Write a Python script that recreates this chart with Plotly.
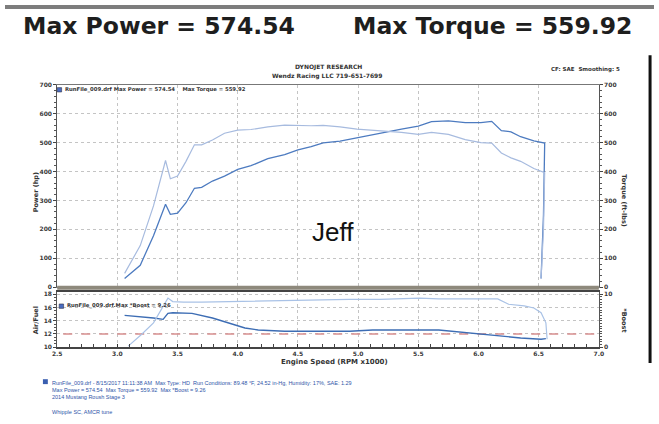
import plotly.graph_objects as go

W, H = 659, 424
def px(x): return x / W
def py(y): return 1 - y / H

# ---------------- data ----------------
rpm = [3.06, 3.19, 3.30, 3.35, 3.40, 3.44, 3.50, 3.57, 3.64, 3.70, 3.79, 3.89, 4.00, 4.11,
       4.25, 4.39, 4.50, 4.61, 4.71, 4.85, 4.99, 5.12, 5.23, 5.36, 5.50, 5.61, 5.75, 5.89,
       6.02, 6.11, 6.19, 6.27, 6.35, 6.46, 6.55, 6.54, 6.52]
power = [30, 76, 178, 235, 287, 252, 256, 292, 342, 345, 367, 384, 407, 420,
         444, 458, 475, 486, 499, 505, 517, 527, 537, 546, 557, 572, 574.5, 569,
         569, 573, 541, 537, 520, 506, 498, 250, 30]
torque = [48, 144, 281, 357, 438, 375, 384, 435, 492, 492, 509, 532, 543, 545,
          554, 560, 558, 558, 559, 554, 546, 542, 540, 535, 528, 535, 528, 510,
          500, 498, 464, 447, 435, 410, 396, 200, 30]

boost_rpm = [3.09, 3.20, 3.30, 3.42, 3.46, 3.55, 3.70, 4.11, 4.50, 4.93, 5.18, 5.51,
             5.67, 6.16, 6.25, 6.38, 6.46, 6.52, 6.56, 6.57]
boost = [0.2, 2.4, 4.6, 9.26, 8.6, 8.5, 8.5, 8.7, 8.9, 9.0, 9.0, 9.26,
         9.1, 9.1, 8.1, 7.8, 7.4, 6.5, 4.6, 1.5]

afr_rpm = [3.06, 3.20, 3.30, 3.38, 3.42, 3.46, 3.62, 3.79, 3.92, 4.06, 4.17, 4.39,
           4.93, 5.12, 5.67, 5.89, 6.08, 6.35, 6.52, 6.56]
afr = [14.8, 14.6, 14.4, 14.2, 15.1, 15.2, 15.1, 14.4, 13.7, 12.9, 12.6, 12.4,
       12.4, 12.6, 12.6, 12.2, 11.8, 11.4, 11.2, 11.3]

afr_target_rpm = [2.55, 7.0]
afr_target = [12.0, 12.0]

x_ticks = [2.5, 3.0, 3.5, 4.0, 4.5, 5.0, 5.5, 6.0, 6.5, 7.0]
x_ticklabels = ["2.5", "3.0", "3.5", "4.0", "4.5", "5.0", "5.5", "6.0", "6.5", "7.0"]
power_ticks = [0, 100, 200, 300, 400, 500, 600, 700]
afr_ticks = [10, 12, 14, 16, 18]
boost_ticks = [0, 10]

# ---------------- figure ----------------
TF = dict(family="DejaVu Sans", size=6, color="#3a3a3a", weight="bold")
GRID = dict(showgrid=True, gridcolor="#c4c4c4", griddash="dot", gridwidth=1)

fig = go.Figure()
fig.add_trace(go.Scatter(x=rpm, y=torque, xaxis="x", yaxis="y2", mode="lines",
                         line=dict(color="#a7bbdf", width=1.2), hoverinfo="skip"))
fig.add_trace(go.Scatter(x=rpm, y=power, xaxis="x", yaxis="y", mode="lines",
                         line=dict(color="#4d7bc0", width=1.3), hoverinfo="skip"))
fig.add_trace(go.Scatter(x=afr_target_rpm, y=afr_target, xaxis="x2", yaxis="y3", mode="lines",
                         line=dict(color="#d88f8f", width=1.6, dash="dash"), hoverinfo="skip"))
fig.add_trace(go.Scatter(x=boost_rpm, y=boost, xaxis="x2", yaxis="y4", mode="lines",
                         line=dict(color="#a9c2e6", width=1.2), hoverinfo="skip"))
fig.add_trace(go.Scatter(x=afr_rpm, y=afr, xaxis="x2", yaxis="y3", mode="lines",
                         line=dict(color="#3d6db4", width=1.4), hoverinfo="skip"))

xdom = [px(53), px(603)]
fig.update_layout(
    width=W, height=H, autosize=False,
    margin=dict(l=0, r=0, t=0, b=0),
    paper_bgcolor="white", plot_bgcolor="white",
    showlegend=False,
    xaxis=dict(domain=xdom, anchor="y", range=[2.5, 7.0], tickvals=x_ticks,
               showticklabels=False, ticks="", zeroline=False,
               showline=True, linecolor="#777", mirror=True, **GRID),
    yaxis=dict(domain=[py(288), py(82)], anchor="x", range=[0, 700], tickvals=power_ticks,
               ticks="outside", ticklen=3, tickcolor="#444", tickfont=TF,
               minor=dict(dtick=20, ticks="outside", ticklen=2, tickcolor="#555", showgrid=False),
               zeroline=False, showline=True, linecolor="#555", **GRID),
    yaxis2=dict(overlaying="y", side="right", anchor="x", range=[0, 700], tickvals=power_ticks,
                ticks="outside", ticklen=3, tickcolor="#444", tickfont=TF,
                minor=dict(dtick=20, ticks="outside", ticklen=2, tickcolor="#555"),
                showgrid=False, zeroline=False, showline=True, linecolor="#555"),
    xaxis2=dict(domain=xdom, anchor="y3", range=[2.5, 7.0], tickvals=x_ticks, ticktext=x_ticklabels,
                ticks="inside", ticklen=3, tickcolor="#333", tickfont=TF,
                minor=dict(dtick=0.1, ticks="inside", ticklen=3, tickcolor="#444"),
                zeroline=False, showline=True, linecolor="#444", linewidth=1.5, mirror=True, **GRID),
    yaxis3=dict(domain=[py(349), py(293)], anchor="x2", range=[10, 18.3], tickvals=afr_ticks,
                ticks="outside", ticklen=3, tickcolor="#444", tickfont=TF,
                minor=dict(dtick=0.5, ticks="outside", ticklen=2, tickcolor="#555", showgrid=False),
                zeroline=False, showline=True, linecolor="#555", **GRID),
    yaxis4=dict(overlaying="y3", side="right", anchor="x2", range=[0, 10.375], tickvals=boost_ticks,
                ticks="outside", ticklen=3, tickcolor="#444", tickfont=TF,
                minor=dict(dtick=0.5, ticks="outside", ticklen=2, tickcolor="#555"),
                showgrid=False, zeroline=False, showline=True, linecolor="#555"),
)

shapes = [
    # top edge band of the photo
    dict(type="rect", xref="paper", yref="paper", x0=0, x1=1, y0=py(5), y1=py(1),
         fillcolor="#7d7d7d", line=dict(width=0), layer="above"),
    # thick bottom border of the upper plot
    dict(type="rect", xref="paper", yref="paper", x0=px(53), x1=px(603), y0=py(290.5), y1=py(286.5),
         fillcolor="#8e897c", line=dict(width=0), layer="above"),
    # right black edge
    dict(type="line", xref="paper", yref="paper", x0=px(655), x1=px(655), y0=py(365), y1=py(52),
         line=dict(color="#111", width=3)),
    # legend squares
    dict(type="rect", xref="paper", yref="paper", x0=px(53), x1=px(57.5), y0=py(89.5), y1=py(85),
         fillcolor="#4a6cc0", line=dict(color="#223", width=0.5), layer="above"),
    dict(type="rect", xref="paper", yref="paper", x0=px(55), x1=px(59.5), y0=py(309.5), y1=py(305),
         fillcolor="#4a6cc0", line=dict(color="#223", width=0.5), layer="above"),
    dict(type="rect", xref="paper", yref="paper", x0=px(38.5), x1=px(43.5), y0=py(386.5), y1=py(381.5),
         fillcolor="#3a5fb0", line=dict(width=0)),
]
fig.update_layout(shapes=shapes)

def ann(text, x, y, size, xanchor="center", yanchor="middle", color="#333", bold=True,
        family="DejaVu Sans", angle=0, align="left"):
    return dict(text=text, x=px(x), y=py(y), xref="paper", yref="paper", showarrow=False,
                xanchor=xanchor, yanchor=yanchor, textangle=angle, align=align,
                font=dict(family=family, size=size, color=color, weight="bold" if bold else "normal"))

info = ("RunFile_009.drf - 8/15/2017 11:11:38 AM  Max Type: HD  Run Conditions: 89.48 \u00b0F, "
        "24.52 in-Hg, Humidity: 17%, SAE: 1.29<br>"
        "Max Power = 574.54  Max Torque = 559.92  Max *Boost = 9.26<br>"
        "2014 Mustang Roush Stage 3<br> <br>"
        "Whipple SC, AMCR tune")

annotations = [
    ann("Max Power = 574.54", 156, 22, 23.5, color="#1e1e1e"),
    ann("Max Torque = 559.92", 495, 22, 23.5, color="#1e1e1e"),
    ann("DYNOJET RESEARCH", 328, 64, 6),
    ann("Wendz Racing LLC 719-651-7699", 327, 73, 6),
    ann("CF: SAE  Smoothing: 5", 627, 67, 5.5, xanchor="right"),
    ann("RunFile_009.drf Max Power = 574.54 &nbsp;&nbsp; Max Torque = 559.92", 59, 87, 5.3,
        xanchor="left"),
    ann("RunFile_009.drf.Max *Boost = 9.26", 61, 307, 5.3, xanchor="left"),
    ann("Power (hp)", 31, 192, 6.5, angle=-90),
    ann("Torque (ft-lbs)", 629, 200, 6.5, angle=90),
    ann("Air/Fuel", 31, 322, 6.5, angle=-90),
    ann("*Boost", 629, 322, 6.5, angle=90),
    ann("Engine Speed (RPM x1000)", 335, 364, 7),
    ann("Jeff", 333, 232, 26, color="#111", bold=False, family="Liberation Sans"),
    ann(info, 46, 380, 5.5, xanchor="left", yanchor="top", color="#2f55a8", bold=False,
        family="Liberation Sans"),
]
fig.update_layout(annotations=annotations)

fig.write_html("out.html", config={"displayModeBar": False},
               post_script="document.body.style.margin='0';document.body.style.overflow='hidden';")
